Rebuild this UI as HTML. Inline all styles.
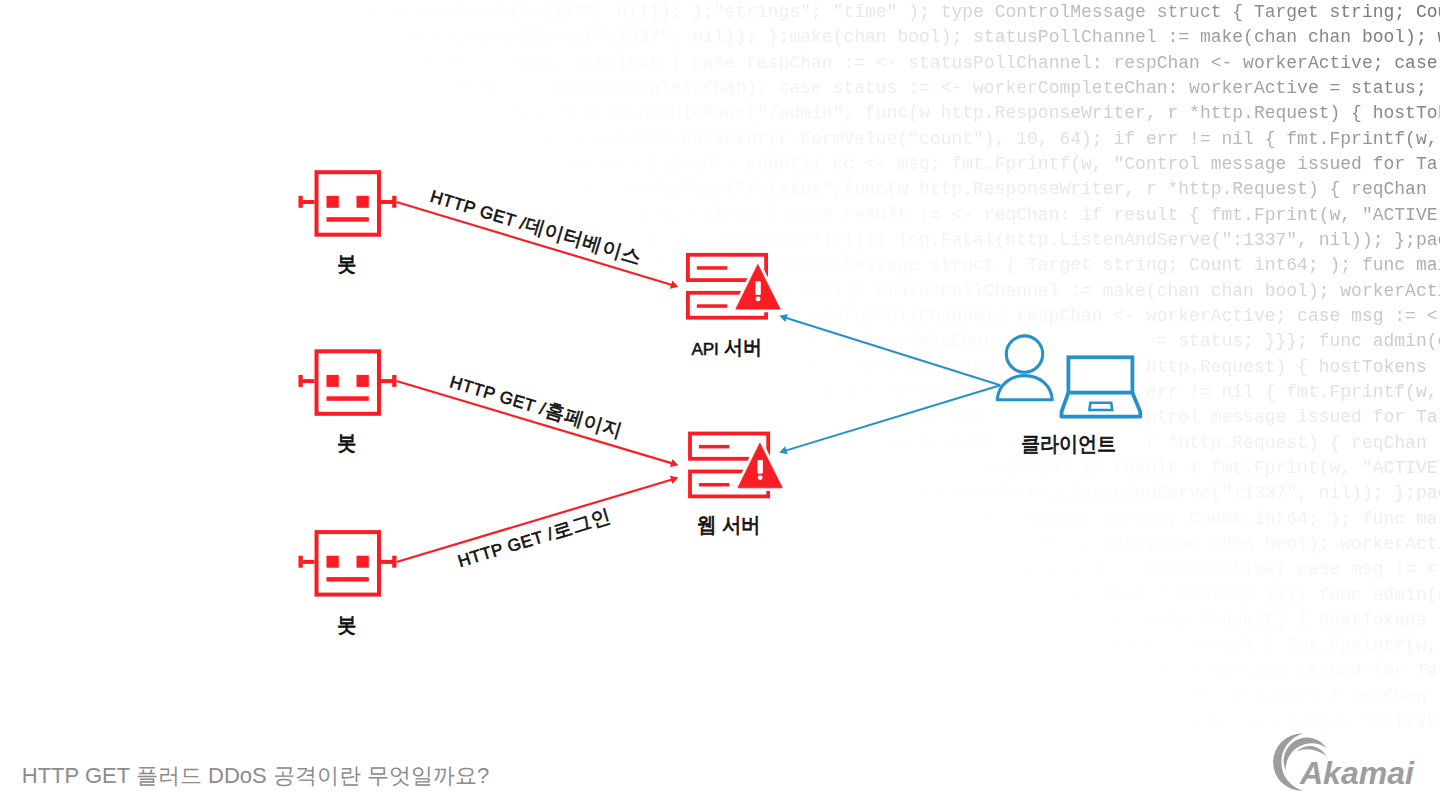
<!DOCTYPE html>
<html><head><meta charset="utf-8"><title>HTTP GET flood</title>
<style>
html,body{margin:0;padding:0;background:#fff;width:1440px;height:810px;overflow:hidden;}
svg{position:absolute;left:0;top:0;}
.code text{font-family:"Liberation Mono",monospace;font-size:18px;fill:#707070;white-space:pre;}
.lbl{font-family:"Liberation Sans",sans-serif;font-weight:bold;fill:#111;}
</style></head><body>
<svg width="1440" height="810" viewBox="0 0 1440 810">
<defs>
<linearGradient id="fade" x1="1440" y1="0" x2="965.6" y2="553.4" gradientUnits="userSpaceOnUse">
<stop offset="0" stop-color="#fff" stop-opacity="1"/>
<stop offset="0.2" stop-color="#fff" stop-opacity="0.78"/>
<stop offset="0.3" stop-color="#fff" stop-opacity="0.55"/>
<stop offset="0.4" stop-color="#fff" stop-opacity="0.36"/>
<stop offset="0.475" stop-color="#fff" stop-opacity="0.22"/>
<stop offset="0.55" stop-color="#fff" stop-opacity="0.14"/>
<stop offset="0.625" stop-color="#fff" stop-opacity="0.1"/>
<stop offset="0.75" stop-color="#fff" stop-opacity="0.045"/>
<stop offset="0.9" stop-color="#fff" stop-opacity="0.01"/>
<stop offset="1" stop-color="#fff" stop-opacity="0"/>
</linearGradient>
<mask id="m" maskUnits="userSpaceOnUse" x="0" y="0" width="1440" height="810"><rect x="0" y="0" width="1440" height="810" fill="url(#fade)"/></mask>
</defs>
<g class="code" mask="url(#m)" xml:space="preserve">
<text x="0.9" y="17.00">, &quot;TIMEOUT&quot;);}}); log.Fatal(http.ListenAndServe(&quot;:1337&quot;, nil)); };&quot;strings&quot;; &quot;time&quot; ); type ControlMessage struct { Target string; Cou</text>
<text x="0.9" y="42.34">print(w, &quot;TIMEOUT&quot;);}}); log.Fatal(http.ListenAndServe(&quot;:1337&quot;, nil)); };make(chan bool); statusPollChannel := make(chan chan bool); w</text>
<text x="0.9" y="67.68">);}}); log.Fatal(http.ListenAndServe(&quot;:1337&quot;, nil)); };select { case respChan := &lt;- statusPollChannel: respChan &lt;- workerActive; case</text>
<text x="0.9" y="93.02">p.ListenAndServe(&quot;:1337&quot;, nil)); };go doStuff(msg, workerCompleteChan); case status := &lt;- workerCompleteChan: workerActive = status;</text>
<text x="0.9" y="118.36">;}}); log.Fatal(http.ListenAndServe(&quot;:1337&quot;, nil)); };http.HandleFunc(&quot;/admin&quot;, func(w http.ResponseWriter, r *http.Request) { hostTok</text>
<text x="0.9" y="143.70">ndServe(&quot;:1337&quot;, nil)); };r.ParseForm(); count, err := strconv.ParseInt(r.FormValue(&quot;count&quot;), 10, 64); if err != nil { fmt.Fprintf(w,</text>
<text x="0.9" y="169.04">IMEOUT&quot;);}}); log.Fatal(http.ListenAndServe(&quot;:1337&quot;, nil)); };Count: count}; cc &lt;- msg; fmt.Fprintf(w, &quot;Control message issued for Tar</text>
<text x="0.9" y="194.38">log.Fatal(http.ListenAndServe(&quot;:1337&quot;, nil)); };}); http.HandleFunc(&quot;/status&quot;,func(w http.ResponseWriter, r *http.Request) { reqChan</text>
<text x="0.9" y="219.72">(http.ListenAndServe(&quot;:1337&quot;, nil)); };time.After(time.Second); select { case result := &lt;- reqChan: if result { fmt.Fprint(w, &quot;ACTIVE&quot;</text>
<text x="0.9" y="245.06">nAndServe(&quot;:1337&quot;, nil)); };return; case &lt;- timeout: fmt.Fprint(w, &quot;TIMEOUT&quot;);}}); log.Fatal(http.ListenAndServe(&quot;:1337&quot;, nil)); };pac</text>
<text x="0.9" y="270.40">.ListenAndServe(&quot;:1337&quot;, nil)); };&quot;strconv&quot;; &quot;strings&quot;; &quot;time&quot; ); type ControlMessage struct { Target string; Count int64; ); func mai</text>
<text x="0.9" y="295.74">337&quot;, nil)); };make(chan ControlMessage); workerCompleteChan := make(chan bool); statusPollChannel := make(chan chan bool); workerActi</text>
<text x="0.9" y="321.08">l(http.ListenAndServe(&quot;:1337&quot;, nil)); };for { select { case respChan := &lt;- statusPollChannel: respChan &lt;- workerActive; case msg := &lt;-</text>
<text x="0.9" y="346.42">&quot;);}}); log.Fatal(http.ListenAndServe(&quot;:1337&quot;, nil)); };case status := &lt;- workerCompleteChan: workerActive = status; }}}; func admin(c</text>
<text x="0.9" y="371.76">istenAndServe(&quot;:1337&quot;, nil)); };chan chan bool) {http.HandleFunc(&quot;/admin&quot;, func(w http.ResponseWriter, r *http.Request) { hostTokens</text>
<text x="0.9" y="397.10">ndServe(&quot;:1337&quot;, nil)); };r.ParseForm(); count, err := strconv.ParseInt(r.FormValue(&quot;count&quot;), 10, 64); if err != nil { fmt.Fprintf(w,</text>
<text x="0.9" y="422.44">IMEOUT&quot;);}}); log.Fatal(http.ListenAndServe(&quot;:1337&quot;, nil)); };Count: count}; cc &lt;- msg; fmt.Fprintf(w, &quot;Control message issued for Tar</text>
<text x="0.9" y="447.78">log.Fatal(http.ListenAndServe(&quot;:1337&quot;, nil)); };}); http.HandleFunc(&quot;/status&quot;,func(w http.ResponseWriter, r *http.Request) { reqChan</text>
<text x="0.9" y="473.12">(http.ListenAndServe(&quot;:1337&quot;, nil)); };time.After(time.Second); select { case result := &lt;- reqChan: if result { fmt.Fprint(w, &quot;ACTIVE&quot;</text>
<text x="0.9" y="498.46">nAndServe(&quot;:1337&quot;, nil)); };return; case &lt;- timeout: fmt.Fprint(w, &quot;TIMEOUT&quot;);}}); log.Fatal(http.ListenAndServe(&quot;:1337&quot;, nil)); };pac</text>
<text x="0.9" y="523.80">.ListenAndServe(&quot;:1337&quot;, nil)); };&quot;strconv&quot;; &quot;strings&quot;; &quot;time&quot; ); type ControlMessage struct { Target string; Count int64; ); func mai</text>
<text x="0.9" y="549.14">337&quot;, nil)); };make(chan ControlMessage); workerCompleteChan := make(chan bool); statusPollChannel := make(chan chan bool); workerActi</text>
<text x="0.9" y="574.48">l(http.ListenAndServe(&quot;:1337&quot;, nil)); };for { select { case respChan := &lt;- statusPollChannel: respChan &lt;- workerActive; case msg := &lt;-</text>
<text x="0.9" y="599.82">&quot;);}}); log.Fatal(http.ListenAndServe(&quot;:1337&quot;, nil)); };case status := &lt;- workerCompleteChan: workerActive = status; }}}; func admin(c</text>
<text x="0.9" y="625.16">istenAndServe(&quot;:1337&quot;, nil)); };chan chan bool) {http.HandleFunc(&quot;/admin&quot;, func(w http.ResponseWriter, r *http.Request) { hostTokens</text>
<text x="0.9" y="650.50">ndServe(&quot;:1337&quot;, nil)); };r.ParseForm(); count, err := strconv.ParseInt(r.FormValue(&quot;count&quot;), 10, 64); if err != nil { fmt.Fprintf(w,</text>
<text x="0.9" y="675.84">IMEOUT&quot;);}}); log.Fatal(http.ListenAndServe(&quot;:1337&quot;, nil)); };Count: count}; cc &lt;- msg; fmt.Fprintf(w, &quot;Control message issued for Tar</text>
<text x="0.9" y="701.18">log.Fatal(http.ListenAndServe(&quot;:1337&quot;, nil)); };}); http.HandleFunc(&quot;/status&quot;,func(w http.ResponseWriter, r *http.Request) { reqChan</text>
<text x="0.9" y="726.52">(http.ListenAndServe(&quot;:1337&quot;, nil)); };time.After(time.Second); select { case result := &lt;- reqChan: if result { fmt.Fprint(w, &quot;ACTIVE&quot;</text>
</g>
<g fill="#fff"><rect x="990" y="330" width="155" height="130"/><rect x="680" y="246" width="106" height="118"/><rect x="682" y="425" width="106" height="118"/></g>
<rect x="316.5" y="172.2" width="62.5" height="62.5" fill="none" stroke="#fb1d24" stroke-width="4"/>
<rect x="326.5" y="195.79999999999998" width="12.3" height="12" fill="#fb1d24"/>
<rect x="356.5" y="195.79999999999998" width="12.3" height="12" fill="#fb1d24"/>
<rect x="326.5" y="217.2" width="42.3" height="4.5" fill="#fb1d24"/>
<rect x="298.5" y="195.79999999999998" width="4.3" height="12" fill="#fb1d24"/>
<rect x="302.5" y="200.0" width="12" height="4" fill="#fb1d24"/>
<rect x="381.0" y="200.0" width="12" height="4" fill="#fb1d24"/>
<rect x="392.2" y="195.79999999999998" width="4.3" height="12" fill="#fb1d24"/>
<rect x="316.5" y="351.3" width="62.5" height="62.5" fill="none" stroke="#fb1d24" stroke-width="4"/>
<rect x="326.5" y="374.90000000000003" width="12.3" height="12" fill="#fb1d24"/>
<rect x="356.5" y="374.90000000000003" width="12.3" height="12" fill="#fb1d24"/>
<rect x="326.5" y="396.3" width="42.3" height="4.5" fill="#fb1d24"/>
<rect x="298.5" y="374.90000000000003" width="4.3" height="12" fill="#fb1d24"/>
<rect x="302.5" y="379.1" width="12" height="4" fill="#fb1d24"/>
<rect x="381.0" y="379.1" width="12" height="4" fill="#fb1d24"/>
<rect x="392.2" y="374.90000000000003" width="4.3" height="12" fill="#fb1d24"/>
<rect x="316.5" y="532.1" width="62.5" height="62.5" fill="none" stroke="#fb1d24" stroke-width="4"/>
<rect x="326.5" y="555.7" width="12.3" height="12" fill="#fb1d24"/>
<rect x="356.5" y="555.7" width="12.3" height="12" fill="#fb1d24"/>
<rect x="326.5" y="577.1" width="42.3" height="4.5" fill="#fb1d24"/>
<rect x="298.5" y="555.7" width="4.3" height="12" fill="#fb1d24"/>
<rect x="302.5" y="559.9" width="12" height="4" fill="#fb1d24"/>
<rect x="381.0" y="559.9" width="12" height="4" fill="#fb1d24"/>
<rect x="392.2" y="555.7" width="4.3" height="12" fill="#fb1d24"/>
<rect x="687.9" y="254.8" width="78.2" height="25.3" fill="none" stroke="#fb1d24" stroke-width="3.8"/>
<rect x="687.9" y="292.79999999999995" width="78.2" height="24.9" fill="none" stroke="#fb1d24" stroke-width="3.8"/>
<rect x="696.8" y="266.2" width="30.5" height="3.5" fill="#fb1d24"/>
<rect x="696.8" y="304.3" width="30.5" height="3.5" fill="#fb1d24"/>
<polygon points="757.8,264.4 780.2,309.1 735.8,309.1" fill="#fff" stroke="#fff" stroke-width="6.5" stroke-linejoin="round"/>
<polygon points="757.8,264.4 780.2,309.1 735.8,309.1" fill="#fb1d24" stroke="#fb1d24" stroke-width="0.8" stroke-linejoin="round"/>
<rect x="755.4" y="281.2" width="5.4" height="13.8" rx="1" fill="#fff"/>
<circle cx="758.1" cy="298.9" r="2.4" fill="#fff"/>
<rect x="690.0" y="433.5" width="78.2" height="25.3" fill="none" stroke="#fb1d24" stroke-width="3.8"/>
<rect x="690.0" y="471.5" width="78.2" height="24.9" fill="none" stroke="#fb1d24" stroke-width="3.8"/>
<rect x="698.9" y="444.90000000000003" width="30.5" height="3.5" fill="#fb1d24"/>
<rect x="698.9" y="483.0" width="30.5" height="3.5" fill="#fb1d24"/>
<polygon points="759.9,443.1 782.3000000000001,487.8 737.9,487.8" fill="#fff" stroke="#fff" stroke-width="6.5" stroke-linejoin="round"/>
<polygon points="759.9,443.1 782.3000000000001,487.8 737.9,487.8" fill="#fb1d24" stroke="#fb1d24" stroke-width="0.8" stroke-linejoin="round"/>
<rect x="757.5" y="459.90000000000003" width="5.4" height="13.8" rx="1" fill="#fff"/>
<circle cx="760.2" cy="477.6" r="2.4" fill="#fff"/>
<line x1="396.5" y1="202" x2="672.08" y2="284.93" stroke="#fb1d24" stroke-width="2.2"/><polygon points="678.30,286.80 669.91,288.66 672.33,280.62" fill="#fb1d24"/>
<line x1="396.5" y1="381" x2="672.17" y2="463.34" stroke="#fb1d24" stroke-width="2.2"/><polygon points="678.40,465.20 670.01,467.08 672.42,459.03" fill="#fb1d24"/>
<line x1="396.5" y1="562" x2="672.17" y2="479.46" stroke="#fb1d24" stroke-width="2.2"/><polygon points="678.40,477.60 672.42,483.77 670.01,475.73" fill="#fb1d24"/>
<line x1="1000.3" y1="385.2" x2="785.60" y2="317.75" stroke="#2590c9" stroke-width="2.0"/><polygon points="779.40,315.80 787.81,314.04 785.30,322.05" fill="#2590c9"/>
<line x1="1000.3" y1="385.2" x2="785.52" y2="450.61" stroke="#2590c9" stroke-width="2.0"/><polygon points="779.30,452.50 785.25,446.30 787.70,454.33" fill="#2590c9"/>
<circle cx="1024.5" cy="354.1" r="18.2" fill="none" stroke="#2590c9" stroke-width="3.1"/>
<path d="M997.2,399.8 C998.4,384.5 1010.5,375.6 1024.75,375.6 C1039,375.6 1051.1,384.5 1052.3,399.8 Z" fill="none" stroke="#2590c9" stroke-width="3.1" stroke-linejoin="round"/>
<rect x="1068.4" y="357.3" width="64" height="35.3" fill="none" stroke="#2590c9" stroke-width="3.8"/>
<path d="M1068.4,392.6 L1061.6,411.5 L1061.4,416.6 L1140.4,416.6 L1140.2,411.5 L1132.4,392.6" fill="none" stroke="#2590c9" stroke-width="3.8" stroke-linejoin="round"/>
<path d="M1090.4,402.7 L1111.2,402.7 L1112.2,410 L1089.4,410 Z" fill="none" stroke="#2590c9" stroke-width="2.6" stroke-linejoin="miter"/>
<g font-family="Liberation Sans, sans-serif" fill="#111" stroke="#111" stroke-width="0.75" text-anchor="middle" font-size="19.5">
<text transform="translate(347 270.8) scale(1 1.08)">봇</text>
<text transform="translate(347 450.4) scale(1 1.08)">봇</text>
<text transform="translate(347 632) scale(1 1.08)">봇</text>
<text x="691.6" y="354.9" font-size="17.2" stroke-width="0.5" letter-spacing="-0.2" text-anchor="start">API</text>
<text transform="translate(743.4 353.9) scale(1 1.05)">서버</text>
<text transform="translate(728.6 532) scale(1 1.08)">웹 서버</text>
<text transform="translate(1068.3 450.8) scale(0.98 1.08)">클라이언트</text>
</g>
<g font-family="Liberation Sans, sans-serif" font-size="17" fill="#111" stroke="#111" stroke-width="0.6">
<text transform="translate(429.2 201.3) rotate(16.75)" letter-spacing="0.6">HTTP GET /<tspan font-size="19.5" letter-spacing="0">데이터베이스</tspan></text>
<text transform="translate(448.8 386.8) rotate(16.63)" letter-spacing="0.6">HTTP GET /<tspan font-size="19.5" letter-spacing="0">홈페이지</tspan></text>
<text transform="translate(459.9 567.2) rotate(-16.67)" letter-spacing="0.6">HTTP GET /<tspan font-size="19.5" letter-spacing="0">로그인</tspan></text>
</g>
<text x="21.8" y="783" font-family="Liberation Sans, sans-serif" font-size="22" fill="#8c8c8c">HTTP GET 플러드 DDoS 공격이란 무엇일까요?</text>
<g fill="#9d9d9d">
<path d="M1303,733.6 A28.58,28.58 0 1 0 1303,790.7 A29.64,29.64 0 0 1 1303,733.6 Z"/>
<path d="M1285.7,770.4 A23.33,23.33 0 0 1 1326.4,747.9 A25.96,25.96 0 0 0 1285.7,770.4 Z"/>
<path d="M1296.5,751.3 A18.86,18.86 0 0 1 1326.4,756.5 A29.02,29.02 0 0 0 1296.5,751.3 Z"/>
<text x="1300" y="784" font-family="Liberation Sans, sans-serif" font-size="32" font-weight="bold" font-style="italic">Akamai</text>
</g>
</svg>
</body></html>
